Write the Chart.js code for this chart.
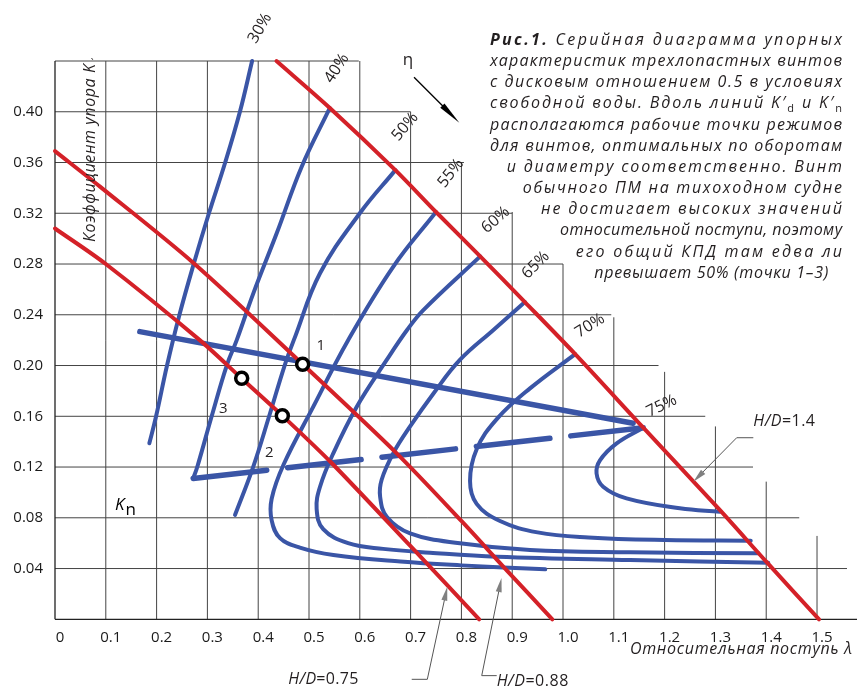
<!DOCTYPE html>
<html><head><meta charset="utf-8">
<script src="https://cdn.jsdelivr.net/npm/chart.js@4.4.1/dist/chart.umd.min.js"></script>
<style>html,body{margin:0;padding:0;background:#fff;}#wrap{width:857px;height:689px;position:relative;}</style>
</head><body><div id="wrap"><canvas id="c" width="857" height="689"></canvas></div>
<script>
// ---------- tick values ----------
const xTicks = [0,0.1,0.2,0.3,0.4,0.5,0.6,0.7,0.8,0.9,1.0,1.1,1.2,1.3,1.4,1.5];
const yTicks = [0.04,0.08,0.12,0.16,0.20,0.24,0.28,0.32,0.36,0.40];

// ---------- staircase grid (value extents) ----------
const gridRowsY    = [0.04,0.08,0.12,0.16,0.20,0.24,0.28,0.32,0.36,0.40,0.44];
const gridRowsXEnd = [1.559,1.465,1.374,1.28,1.188,1.095,1.0,0.9,0.805,0.70,0.598];
const gridColsX    = [0.1,0.2,0.3,0.4,0.5,0.6,0.7,0.8,0.9,1.0,1.1,1.2,1.3,1.4,1.5];
const gridColsYTop = [0.44,0.44,0.44,0.44,0.44,0.44,0.40,0.36,0.321,0.28,0.238,0.195,0.152,0.1085,0.0657];

// ---------- efficiency curves (blue) ----------
const eta30 = [[0.388,0.44],[0.364,0.40],[0.335,0.36],[0.303,0.32],[0.273,0.28],[0.245,0.24],[0.2205,0.20],[0.199,0.16],[0.1857,0.1387]];
const eta40 = [[0.541,0.403],[0.4856,0.3567],[0.4364,0.3042],[0.3904,0.2569],[0.3577,0.220],[0.338,0.20],[0.3084,0.16],[0.28,0.12],[0.272,0.111]];
const eta50 = [[0.67,0.354],[0.600,0.320],[0.5217,0.2727],[0.472,0.222],[0.452,0.20],[0.4215,0.16],[0.39,0.12],[0.3543,0.0822]];
const eta55 = [[0.75,0.321],[0.666,0.278],[0.577,0.22],[0.5085,0.1676],[0.45,0.122],[0.4265,0.095],[0.4265,0.078],[0.443,0.064],[0.482,0.0565],[0.548,0.0507],[0.68,0.0455],[0.80,0.0425],[0.965,0.0394]];
const eta60 = [[0.837,0.286],[0.725,0.2437],[0.693,0.228],[0.6526,0.2042],[0.594,0.1676],[0.548,0.131],[0.5217,0.1045],[0.515,0.087],[0.528,0.071],[0.577,0.060],[0.646,0.0555],[0.738,0.0525],[0.87,0.0493],[1.132,0.0467],[1.404,0.0446]];
const eta65 = [[0.925,0.250],[0.863,0.228],[0.797,0.2044],[0.745,0.178],[0.699,0.152],[0.666,0.131],[0.643,0.11],[0.64,0.0966],[0.653,0.0809],[0.699,0.0678],[0.797,0.0599],[0.935,0.0546],[1.132,0.0528],[1.3845,0.052]];
const eta70 = [[1.024,0.209],[0.935,0.182],[0.87,0.158],[0.83,0.134],[0.817,0.109],[0.83,0.091],[0.876,0.0775],[0.95,0.0685],[1.05,0.0645],[1.2,0.0625],[1.3695,0.062]];
const eta75 = [[1.158,0.151],[1.1056,0.1387],[1.073,0.1255],[1.066,0.115],[1.079,0.1045],[1.125,0.0953],[1.230,0.0875],[1.309,0.0848]];

// ---------- optimum lines K'd (solid) and K'n (dashed) ----------
const kdLine = [[0.167,0.2267],[1.138,0.1545]];
const knLine = [[0.272,0.111],[1.158,0.151]];

// ---------- pitch ratio curves (red) ----------
const hd075 = [[0,0.308],[0.10,0.280],[0.285,0.220],[0.3675,0.1898],[0.4475,0.1605],[0.545,0.123],[0.699,0.058],[0.835,0]];
const hd088 = [[0,0.369],[0.0886,0.341],[0.272,0.281],[0.4876,0.201],[0.6726,0.1308],[0.80,0.0775],[0.886,0.040],[0.979,0]];
const hd140 = [[0.436,0.44],[0.541,0.403],[0.67,0.354],[0.75,0.321],[0.837,0.286],[0.925,0.250],[1.024,0.209],[1.158,0.151],[1.309,0.086],[1.401,0.045],[1.504,0]];

// ---------- operating points 1-3 ----------
const opPoints = [[0.4875,0.201],[0.4475,0.1605],[0.3675,0.190]];
const opLabels = [['1',0.523,0.2154],['2',0.4219,0.1313],['3',0.3313,0.1663]];

// ---------- labels ----------
const pctLabels = [['30%',0.4035,0.4658,-60],['40%',0.5545,0.4342,-57],['50%',0.689,0.3882,-50],['55%',0.779,0.3515,-52],['60%',0.8675,0.3147,-41],['65%',0.9463,0.2792,-45],['70%',1.0531,0.2314,-32],['75%',1.1943,0.1681,-26]];
// [text, x0, x1, baselineY]
const hdLabels = [['0.75',0.4593,0.597,-0.051],['0.88',0.8695,1.0104,-0.0526],['1.4',1.3746,1.496,0.1523]];
// leader polylines: end -> elbow -> tip
const hdLeaders = [
  [[0.7022,-0.0473],[0.7329,-0.0473],[0.7722,0.0257]],
  [[0.8695,-0.0444],[0.84,-0.0444],[0.8789,0.0325]],
  [[1.3746,0.1431],[1.3419,0.1431],[1.2565,0.1084]]
];
const etaSymbol = ['η',0.695,0.4407];
const etaArrow = [[0.7067,0.4272],[0.7959,0.3914]];
const knLabel = [0.118,0.0861];

const captionLines = [
  [490,842,[['Рис.1.','b'],[' Серийная диаграмма упорных','i']]],
  [490,842,[['характеристик трехлопастных винтов','i']]],
  [490,842,[['с дисковым отношением 0.5 в условиях','i']]],
  [490,842,[['свободной воды. Вдоль линий K′','i'],['d','sub'],[' и K′','i'],['n','sub']]],
  [490,842,[['располагаются рабочие точки режимов','i']]],
  [490,842,[['для винтов, оптимальных по оборотам','i']]],
  [506.7,842,[['и диаметру соответственно. Винт','i']]],
  [522.7,842,[['обычного ПМ на тихоходном судне','i']]],
  [541,842,[['не достигает высоких значений','i']]],
  [560,842,[['относительной поступи, поэтому','i']]],
  [575.7,842,[['его общий КПД там едва ли','i']]],
  [594.3,828.3,[['превышает 50% (точки 1–3)','i']]]
];

const BLUE = '#3a55a6', RED = '#d42128', TXT = '#231f20', GRID = '#444';
const FAM = '"Open Sans", "Noto Sans", sans-serif';

function pts(a){ return a.map(p => ({x:p[0], y:p[1]})); }
function lineDS(a, color, w, order, extra){
  return Object.assign({data: pts(a), showLine: true, borderColor: color, backgroundColor: color,
    borderWidth: w, pointRadius: 0, pointHoverRadius: 0, pointHitRadius: 0, tension: 0.4,
    borderCapStyle: 'round', borderJoinStyle: 'round', clip: false, order: order}, extra || {});
}

const datasets = [
  {data: pts(opPoints), showLine: false, pointRadius: 6, pointBorderWidth: 3.5, pointBorderColor: '#000',
   pointBackgroundColor: '#fff', pointHoverRadius: 6, clip: false, order: 0},
  lineDS(hd075, RED, 4, 1, {tension: 0.3}),
  lineDS(hd088, RED, 4, 1, {tension: 0.3}),
  lineDS(hd140, RED, 4, 1, {tension: 0.3}),
  lineDS(eta30, BLUE, 4, 2),
  lineDS(eta40, BLUE, 4, 2),
  lineDS(eta50, BLUE, 4, 2),
  lineDS(eta55, BLUE, 4, 2),
  lineDS(eta60, BLUE, 4, 2),
  lineDS(eta65, BLUE, 4, 2),
  lineDS(eta70, BLUE, 4, 2),
  lineDS(eta75, BLUE, 4, 2),
  lineDS(kdLine, BLUE, 5.5, 2, {tension: 0}),
  lineDS(knLine, BLUE, 5.5, 2, {tension: 0, borderDash: [74, 21]})
];

function fontFor(st, size){
  size = size || 16;
  if (st === 'b') return 'italic bold ' + size + 'px ' + FAM;
  if (st === 'i') return 'italic ' + size + 'px ' + FAM;
  if (st === 'sub') return Math.round(size*0.7) + 'px ' + FAM;
  return size + 'px ' + FAM;
}
function drawJustified(ctx, runs, x0, x1, y, size){
  const chars = [];
  for (const [t, st] of runs) for (const ch of t) chars.push({ch, st});
  let W = 0;
  for (const c of chars){ ctx.font = fontFor(c.st, size); c.w = ctx.measureText(c.ch).width; W += c.w; }
  const extra = chars.length > 1 ? (x1 - x0 - W) / (chars.length - 1) : 0;
  let x = x0;
  ctx.textAlign = 'left'; ctx.textBaseline = 'alphabetic';
  for (const c of chars){
    ctx.font = fontFor(c.st, size);
    ctx.fillText(c.ch, x, y + (c.st === 'sub' ? 4 : 0));
    x += c.w + extra;
  }
}
function arrowHead(ctx, tip, from, len, hw, color){
  const dx = tip[0]-from[0], dy = tip[1]-from[1], L = Math.hypot(dx,dy);
  const ux = dx/L, uy = dy/L;
  const bx = tip[0]-ux*len, by = tip[1]-uy*len;
  ctx.fillStyle = color;
  ctx.beginPath();
  ctx.moveTo(tip[0], tip[1]);
  ctx.lineTo(bx - uy*hw, by + ux*hw);
  ctx.lineTo(bx + uy*hw, by - ux*hw);
  ctx.closePath(); ctx.fill();
}

const gridPlugin = {
  id: 'stairGrid',
  beforeDatasetsDraw(chart){
    const ctx = chart.ctx, xs = chart.scales.x, ys = chart.scales.y;
    ctx.save();
    ctx.strokeStyle = GRID; ctx.lineWidth = 1;
    ctx.beginPath();
    gridRowsY.forEach((v,i) => {
      const y = ys.getPixelForValue(v);
      ctx.moveTo(xs.getPixelForValue(0), y); ctx.lineTo(xs.getPixelForValue(gridRowsXEnd[i]), y);
    });
    gridColsX.forEach((v,i) => {
      const x = xs.getPixelForValue(v);
      ctx.moveTo(x, ys.getPixelForValue(0)); ctx.lineTo(x, ys.getPixelForValue(gridColsYTop[i]));
    });
    ctx.stroke();
    // axes
    ctx.strokeStyle = '#222'; ctx.lineWidth = 1.3;
    ctx.beginPath();
    ctx.moveTo(xs.left, ys.getPixelForValue(0)); ctx.lineTo(xs.right, ys.getPixelForValue(0));
    ctx.moveTo(xs.getPixelForValue(0), ys.getPixelForValue(0)); ctx.lineTo(xs.getPixelForValue(0), ys.getPixelForValue(0.44));
    ctx.stroke();
    ctx.restore();
  }
};

const annotPlugin = {
  id: 'annots',
  afterDatasetsDraw(chart){
    const ctx = chart.ctx, xs = chart.scales.x, ys = chart.scales.y;
    const P = (x,y) => [xs.getPixelForValue(x), ys.getPixelForValue(y)];
    ctx.save();
    ctx.fillStyle = TXT;
    // percentage labels
    ctx.font = '16px ' + FAM; ctx.textAlign = 'center'; ctx.textBaseline = 'middle';
    pctLabels.forEach(([t,x,y,a]) => {
      const p = P(x,y);
      ctx.save(); ctx.translate(p[0], p[1]); ctx.rotate(a*Math.PI/180); ctx.fillText(t, 0, 0); ctx.restore();
    });
    // point numbers
    ctx.font = '15px ' + FAM;
    opLabels.forEach(([t,x,y]) => { const p = P(x,y); ctx.fillText(t, p[0], p[1]); });
    // eta symbol and arrow
    ctx.font = '17px ' + FAM;
    let p = P(etaSymbol[1], etaSymbol[2]); ctx.fillText(etaSymbol[0], p[0], p[1]);
    const a0 = P(...etaArrow[0]), a1 = P(...etaArrow[1]);
    ctx.strokeStyle = '#000'; ctx.lineWidth = 1.3;
    ctx.beginPath(); ctx.moveTo(a0[0], a0[1]); ctx.lineTo(a1[0]-(a1[0]-a0[0])*0.2, a1[1]-(a1[1]-a0[1])*0.2); ctx.stroke();
    arrowHead(ctx, a1, a0, 24, 3, '#000');
    // K'n label
    p = P(...knLabel);
    ctx.textAlign = 'left'; ctx.textBaseline = 'alphabetic';
    ctx.font = 'italic 17px ' + FAM; ctx.fillText('K', p[0], p[1]);
    const kw = ctx.measureText('K').width;
    ctx.font = '17px ' + FAM; ctx.fillText('n', p[0] + kw + 1, p[1] + 5);
    // H/D leaders
    hdLeaders.forEach(L => {
      const q = L.map(v => P(...v));
      ctx.strokeStyle = '#555'; ctx.lineWidth = 1;
      ctx.beginPath(); ctx.moveTo(q[0][0], q[0][1]); ctx.lineTo(q[1][0], q[1][1]);
      const tip = q[2], from = q[1];
      const dx = tip[0]-from[0], dy = tip[1]-from[1], Ln = Math.hypot(dx,dy);
      ctx.lineTo(tip[0]-dx/Ln*8, tip[1]-dy/Ln*8); ctx.stroke();
      arrowHead(ctx, tip, from, 14, 3, '#808080');
    });
    // H/D labels
    ctx.fillStyle = TXT;
    hdLabels.forEach(([v,x0,x1,y]) => {
      const pa = P(x0,y), pb = P(x1,y);
      drawJustified(ctx, [['H/D','i'],['=' + v,'r']], pa[0], pb[0], pa[1], 16);
    });
    ctx.restore();
  },
  afterDraw(chart){
    const ctx = chart.ctx;
    ctx.save();
    ctx.fillStyle = TXT;
    // caption
    captionLines.forEach((ln, i) => drawJustified(ctx, ln[2], ln[0], ln[1], 45 + 21.15*i, 16));
    // x axis title
    drawJustified(ctx, [['Относительная поступь λ','i']], 630, 852, 653.5, 16);
    // y axis title (rotated)
    ctx.beginPath(); ctx.rect(0, 58, 857, 631); ctx.clip();
    ctx.translate(95, 242); ctx.rotate(-Math.PI/2);
    drawJustified(ctx, [['Коэффициент упора K','i']], 0, 178, 0, 16);
    ctx.font = '11px ' + FAM; ctx.fillText('1', 181, 4);
    ctx.restore();
  }
};

new Chart(document.getElementById('c').getContext('2d'), {
  type: 'scatter',
  data: {datasets},
  options: {
    responsive: false, animation: false, devicePixelRatio: 1,
    layout: {autoPadding: false, padding: {top: 61, left: 0, right: 0, bottom: 0}},
    plugins: {legend: {display: false}, tooltip: {enabled: false}},
    events: [],
    scales: {
      x: {type: 'linear', min: 0, max: 1.5787,
        grid: {display: false, drawTicks: false}, border: {display: false},
        afterBuildTicks: s => { s.ticks = xTicks.map(v => ({value: v})); },
        afterFit: s => { s.height = 69.7; s.paddingLeft = 0; s.paddingRight = 0; },
        ticks: {font: {family: FAM, size: 15}, color: '#1a1a1a', padding: 9, labelOffset: 5,
          maxRotation: 0, autoSkip: false, callback: v => v === 0 ? '0' : v.toFixed(1)}},
      y: {type: 'linear', min: 0, max: 0.44,
        grid: {display: false, drawTicks: false}, border: {display: false},
        afterBuildTicks: s => { s.ticks = yTicks.map(v => ({value: v})); },
        afterFit: s => { s.width = 55; s.paddingTop = 0; s.paddingBottom = 0; },
        ticks: {font: {family: FAM, size: 15}, color: '#1a1a1a', padding: 12,
          callback: v => v.toFixed(2)}}
    }
  },
  plugins: [gridPlugin, annotPlugin]
});
</script></body></html>
